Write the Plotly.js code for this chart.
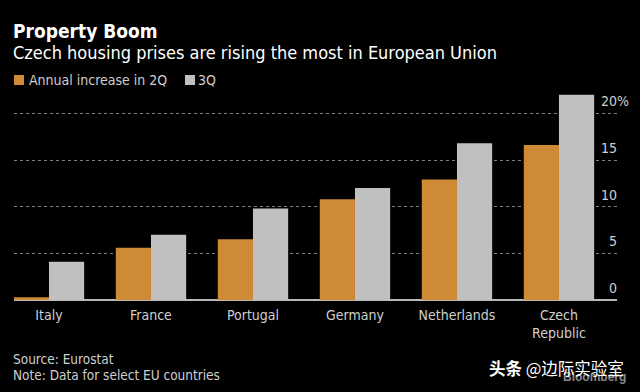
<!DOCTYPE html>
<html>
<head>
<meta charset="utf-8">
<script src="https://cdn.plot.ly/plotly-3.0.1.min.js"></script>
<style>html,body{margin:0;padding:0;background:#000;}#chart{width:640px;height:392px;}</style>
</head>
<body>
<div id="chart"></div>
<script>
const countries = ['Italy', 'France', 'Portugal', 'Germany', 'Netherlands', 'Czech<br>Republic'];
const q2Values = [0.3, 5.6, 6.5, 10.8, 12.9, 16.6];
const q3Values = [4.1, 7.0, 9.8, 12.0, 16.8, 22.0];
const seriesNames = ['Annual increase in 2Q', '3Q'];
const seriesColors = ['#cf8a36', '#c0c0c0'];
const yTickVals = [0, 5, 10, 15, 20];
const yTickText = ['0', '5', '10', '15', '20'];

const FONT = 'DejaVu Sans Condensed, DejaVu Sans, sans-serif';
const py = p => (300 - p) / 210;
const px = p => (p - 14) / 603;
const PAD = 3 / 603;
const HIDE = '<span style="color:#000000">%</span>';

const data = [
  {type: 'bar', x: countries, y: q2Values, name: seriesNames[0], marker: {color: seriesColors[0]}, hoverinfo: 'none'},
  {type: 'bar', x: countries, y: q3Values, name: seriesNames[1], marker: {color: seriesColors[1]}, hoverinfo: 'none'}
];

const ticktext = yTickText.map((t, i) => i === yTickText.length - 1 ? t + '%' : t + HIDE);

const layout = {
  width: 640, height: 392,
  paper_bgcolor: '#000', plot_bgcolor: '#000',
  margin: {l: 14, r: 23, t: 90, b: 92},
  font: {family: FONT, color: '#cfcfcf', size: 14},
  barmode: 'group', bargap: 0.31, bargroupgap: 0,
  showlegend: false,
  xaxis: {type: 'category', range: [-0.343, 5.569], showgrid: false, zeroline: false, showline: false,
          ticks: '', ticklabelstandoff: 5, tickfont: {size: 14, color: '#cfcfcf'}, fixedrange: true},
  yaxis: {side: 'right', range: [0, 22.5], tickvals: yTickVals, ticktext: ticktext,
          ticklabelposition: 'inside top', ticklabelstandoff: -15, ticklabelshift: -2,
          showgrid: true, gridcolor: '#808080', griddash: 'dot', gridwidth: 1,
          zeroline: true, zerolinecolor: '#b8b8b8', zerolinewidth: 2, showline: false, ticks: '',
          tickfont: {size: 14, color: '#cfcfcf'}, fixedrange: true},
  shapes: [
    {type: 'rect', xref: 'paper', yref: 'paper', x0: px(14), x1: px(24), y0: py(85), y1: py(75),
     fillcolor: seriesColors[0], line: {width: 0}},
    {type: 'rect', xref: 'paper', yref: 'paper', x0: px(185), x1: px(195), y0: py(85), y1: py(75),
     fillcolor: seriesColors[1], line: {width: 0}}
  ],
  annotations: [
    {xref: 'paper', yref: 'paper', x: px(30) - PAD, y: py(80), xanchor: 'left', yanchor: 'middle', showarrow: false,
     text: seriesNames[0], font: {size: 14, color: '#cfcfcf', family: FONT}},
    {xref: 'paper', yref: 'paper', x: px(199) - PAD, y: py(80), xanchor: 'left', yanchor: 'middle', showarrow: false,
     text: seriesNames[1], font: {size: 14, color: '#cfcfcf', family: FONT}},
    {xref: 'paper', yref: 'paper', x: -PAD, y: py(31), xanchor: 'left', yanchor: 'middle', showarrow: false,
     text: '<b>Property Boom</b>', font: {size: 19, color: '#ffffff', family: FONT}},
    {xref: 'paper', yref: 'paper', x: -PAD, y: py(53), xanchor: 'left', yanchor: 'middle', showarrow: false,
     text: 'Czech housing prises are rising the most in European Union', font: {size: 18, color: '#ffffff', family: FONT}},
    {xref: 'paper', yref: 'paper', x: -PAD, y: py(359), xanchor: 'left', yanchor: 'middle', showarrow: false,
     text: 'Source: Eurostat', font: {size: 13.5, color: '#cfcfcf', family: FONT}},
    {xref: 'paper', yref: 'paper', x: -PAD, y: py(375), xanchor: 'left', yanchor: 'middle', showarrow: false,
     text: 'Note: Data for select EU countries', font: {size: 13.5, color: '#cfcfcf', family: FONT}},
    {xref: 'paper', yref: 'paper', x: 1.018, y: py(377), xanchor: 'right', yanchor: 'middle', showarrow: false,
     text: '<b>Bloomberg</b>', font: {size: 12, color: '#8a8a8a', family: 'Liberation Sans, sans-serif'}},
    {xref: 'paper', yref: 'paper', x: 1.015, y: py(368), xanchor: 'right', yanchor: 'middle', showarrow: false,
     text: '<b>头条</b> @边际实验室', font: {size: 16.5, color: '#ffffff', family: 'Noto Sans CJK SC, sans-serif'}}
  ]
};

Plotly.newPlot('chart', data, layout, {displayModeBar: false, staticPlot: true});
</script>
</body>
</html>
